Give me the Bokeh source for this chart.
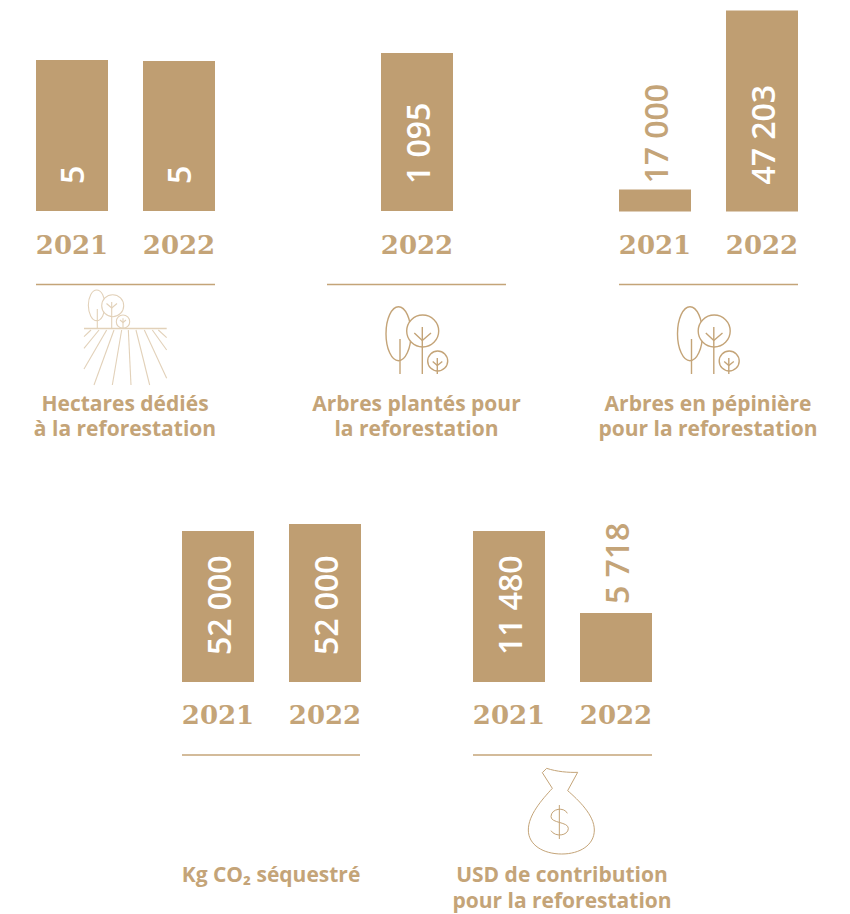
from bokeh.plotting import figure
from bokeh.models import Range1d, ColumnDataSource
from bokeh.embed import file_html
from bokeh.resources import INLINE
from bokeh.core.properties import value
import math

# ---- chart data (values as printed; bar heights) ----
years_hectares = ["2021", "2022"]
values_hectares = [5, 5]
heights_hectares = [151, 150]

years_planted = ["2022"]
values_planted = [1095]
heights_planted = [158]

years_nursery = ["2021", "2022"]
values_nursery = [17000, 47203]
heights_nursery = [22, 201]

years_co2 = ["2021", "2022"]
values_co2 = [52000, 52000]
heights_co2 = [151, 158]

years_usd = ["2021", "2022"]
values_usd = [11480, 5718]
heights_usd = [151, 69]

titles_hectares = ["Hectares dédiés", "à la reforestation"]
titles_planted = ["Arbres plantés pour", "la reforestation"]
titles_nursery = ["Arbres en pépinière", "pour la reforestation"]
titles_co2 = ["Kg CO₂ séquestré"]
titles_usd = ["USD de contribution", "pour la reforestation"]

# ---- style and layout ----
BAR = "#BF9E72"
TEXT = "#C4A478"
LIGHT = "#E2D1B9"
SANS = "Open Sans"
VALUE_FONT = "Open Sans SemiBold"
YEAR_FONT = "DejaVu Serif"

panels = [
    dict(years=years_hectares, values=values_hectares, heights=heights_hectares, titles=titles_hectares,
         centers=[72, 179], base=211, year_y=244, rule=(36, 215, 284.5), title_x=125, title_y=402.5, gap=9),
    dict(years=years_planted, values=values_planted, heights=heights_planted, titles=titles_planted,
         centers=[417], base=211, year_y=244, rule=(327, 506, 284.5), title_x=416.5, title_y=402.5, gap=9),
    dict(years=years_nursery, values=values_nursery, heights=heights_nursery, titles=titles_nursery,
         centers=[655, 762], base=211.5, year_y=244, rule=(619, 798, 284.5), title_x=708, title_y=402.5, gap=6),
    dict(years=years_co2, values=values_co2, heights=heights_co2, titles=titles_co2,
         centers=[218, 325], base=682, year_y=714.5, rule=(182, 360, 755), title_x=271, title_y=874, gap=9),
    dict(years=years_usd, values=values_usd, heights=heights_usd, titles=titles_usd,
         centers=[509, 616], base=682, year_y=714.5, rule=(473, 652, 755), title_x=562, title_y=874, gap=9),
]

BAR_W = 72
LABEL_INSET = 27

p = figure(width=850, height=914, output_backend="svg", toolbar_location=None,
           x_range=Range1d(0.5, 850.5), y_range=Range1d(914.5, 0.5),
           min_border=0, outline_line_color=None, tools="")
p.axis.visible = False
p.grid.visible = False
p.background_fill_color = "white"
p.border_fill_color = "white"

for d in panels:
    tops = [d["base"] - h for h in d["heights"]]
    src = ColumnDataSource(dict(x=d["centers"], top=tops, bottom=[d["base"]] * len(tops)))
    p.vbar(x="x", top="top", bottom="bottom", width=BAR_W, source=src, fill_color=BAR, line_color=None)

    # value labels, running upward from the bottom of the bar or just above a short bar
    for cx, v, h, top in zip(d["centers"], d["values"], d["heights"], tops):
        outside = h < 100
        y = top - d["gap"] if outside else d["base"] - LABEL_INSET
        p.text(x=[cx], y=[y], text=[f"{v:,}".replace(",", " ")], angle=math.pi / 2,
               text_align="left", text_baseline="middle", text_font=value(VALUE_FONT),
               text_font_size="32px", text_font_style="normal",
               text_color=TEXT if outside else "white")

    p.text(x=d["centers"], y=[d["year_y"]] * len(d["years"]), text=d["years"],
           text_align="center", text_baseline="middle", text_font=value(YEAR_FONT),
           text_font_size="26px", text_font_style="bold", text_color=TEXT)

    x0, x1, ry = d["rule"]
    p.line([x0, x1], [ry, ry], line_color=TEXT, line_width=1.5)

    for i, t in enumerate(d["titles"]):
        p.text(x=[d["title_x"]], y=[d["title_y"] + i * 25.5], text=[t],
               text_align="center", text_baseline="middle", text_font=value(SANS),
               text_font_size="21px", text_font_style="bold", text_color=TEXT)


def trees(dx):
    lw = 1.4
    p.ellipse(x=[398.5 + dx], y=[333.7], width=25, height=54, fill_color=None, line_color=TEXT, line_width=lw)
    p.circle(x=[422.7 + dx], y=[331], radius=16, fill_color="white", line_color=TEXT, line_width=lw)
    p.circle(x=[437.7 + dx], y=[361], radius=10, fill_color="white", line_color=TEXT, line_width=lw)
    for x, y0 in [(400, 339), (422.3, 327), (437.3, 358)]:
        p.line([x + dx, x + dx], [y0, 374], line_color=TEXT, line_width=lw)
    p.line([414.3 + dx, 422.3 + dx, 431 + dx], [333, 340.5, 333], line_color=TEXT, line_width=lw)
    p.line([432.7 + dx, 437.3 + dx, 442.3 + dx], [361.5, 365.5, 361.5], line_color=TEXT, line_width=lw)


trees(0)
trees(291.5)

# field icon
lw = 1.1
p.ellipse(x=[96.7], y=[305.3], width=16.7, height=30.7, fill_color=None, line_color=LIGHT, line_width=lw)
p.circle(x=[112.7], y=[305.7], radius=11, fill_color="white", line_color=LIGHT, line_width=lw)
p.circle(x=[123], y=[321.7], radius=6.7, fill_color="white", line_color=LIGHT, line_width=lw)
for x, y0 in [(97.3, 309), (111.7, 302), (123, 318.3)]:
    p.line([x, x], [y0, 328.5], line_color=LIGHT, line_width=lw)
p.line([106.5, 111.7, 117], [303.5, 308, 303.5], line_color=LIGHT, line_width=lw)
p.line([120, 123, 126], [320, 322.5, 320], line_color=LIGHT, line_width=lw)
p.line([84, 166.7], [328.5, 328.5], line_color=LIGHT, line_width=1.4)
furrows = [(48, 135, 27, 155), (72, 135, 27, 190), (95, 135, 27, 252), (117, 135, 57, 300),
           (140, 135, 112, 300), (160, 135, 168, 300), (183, 135, 224, 300), (208, 135, 275, 280),
           (232, 135, 275, 195), (250, 135, 275, 158)]
for a, b, c, e in furrows:
    p.line([75 + a / 3, 75 + c / 3], [285 + b / 3, 285 + e / 3], line_color=LIGHT, line_width=lw)


# money bag icon
def bx(v):
    return 515 + v / 3


def by(v):
    return 760 + v / 3


curves = [
    (95, 25, 125, 35, 160, 38, 188, 37),
    (158, 92, 190, 120, 238, 165, 238, 210),
    (238, 210, 238, 255, 195, 282, 140, 282),
    (140, 282, 85, 282, 40, 255, 40, 210),
    (40, 210, 40, 165, 80, 120, 112, 85),
    (157, 160, 148, 140, 108, 145, 108, 170),
    (108, 170, 108, 190, 160, 185, 160, 205),
    (160, 205, 160, 228, 120, 232, 108, 212),
]
for x0, y0, cx0, cy0, cx1, cy1, x1, y1 in curves:
    p.bezier(x0=[bx(x0)], y0=[by(y0)], cx0=[bx(cx0)], cy0=[by(cy0)], cx1=[bx(cx1)], cy1=[by(cy1)],
             x1=[bx(x1)], y1=[by(y1)], line_color=TEXT, line_width=1)
for seg in [[(188, 37), (158, 92)], [(112, 85), (82, 38), (95, 25)], [(133, 135), (133, 237)]]:
    p.line([bx(a) for a, _ in seg], [by(b) for _, b in seg], line_color=TEXT, line_width=1)

open("out.html", "w").write(file_html(p, INLINE))
